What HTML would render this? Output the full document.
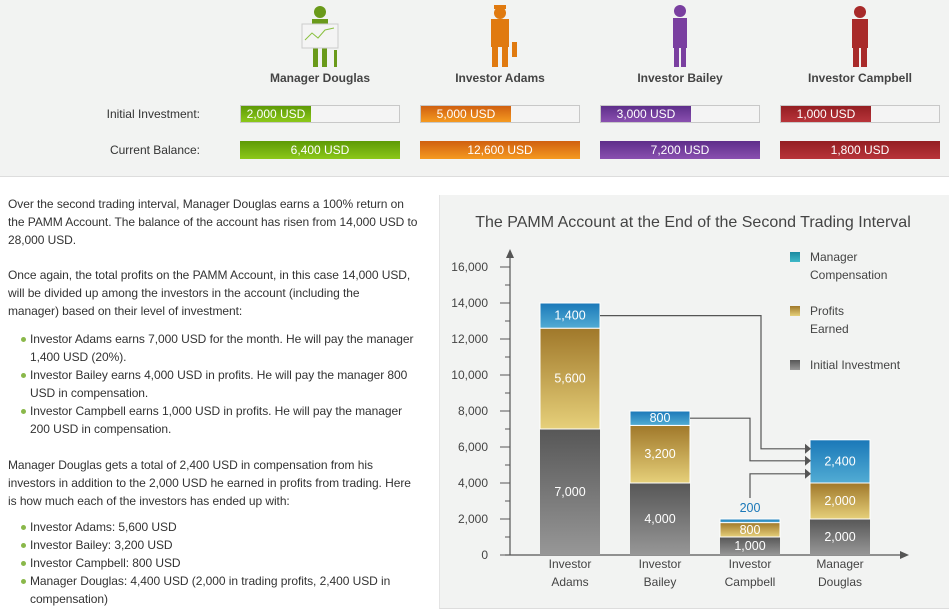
<!DOCTYPE html>
<html><head><meta charset="utf-8">
<style>
body{margin:0;width:949px;height:615px;overflow:hidden;background:#fff;font-family:"Liberation Sans",sans-serif;position:relative}
.top{position:absolute;left:0;top:0;width:949px;height:176px;background:#f2f3f2;border-bottom:1px solid #ddd}
.abs{position:absolute;white-space:nowrap}
.name{font-size:12px;font-weight:bold;color:#444;width:180px;text-align:center;top:71px}
.lbl{font-size:12px;color:#333;width:200px;text-align:right}
.bar{position:absolute;width:158px;height:16px;border:1px solid #c8c8c8;background:#f4f4f4}
.fill{position:absolute;left:0;top:0;height:16px;color:#fff;font-size:12px;line-height:16px;text-align:center;white-space:nowrap;overflow:visible}
.full{position:absolute;width:160px;height:18px;color:#fff;font-size:12px;line-height:18px;text-align:center}
.txt{position:absolute;left:8px;font-size:12px;letter-spacing:-0.06px;color:#333;white-space:nowrap;line-height:18px}
.bul{left:30px}
.dot{position:absolute;left:21px;width:5px;height:5px;border-radius:50%;background:#8ab84a}
.panel{position:absolute;left:439px;top:195px;width:510px;height:413px;background:#f2f3f2;border-left:1px solid #e4e4e4;border-bottom:1px solid #ddd}
</style></head><body>
<div class="top"></div>
<svg class="abs" style="left:0;top:0" width="949" height="70">
 <g fill="#6a9a1a"><circle cx="320" cy="12" r="6"/><rect x="312" y="19" width="16" height="28"/><rect x="313" y="45" width="5" height="22"/><rect x="322" y="45" width="5" height="22"/><rect x="302" y="24" width="36" height="24" fill="#f4f4f4" stroke="#ccc"/><polyline points="305,40 312,33 318,38 325,30 334,28" fill="none" stroke="#8ac040"/><rect x="334" y="50" width="3" height="17"/></g>
 <g fill="#e07a10"><rect x="494" y="5" width="12" height="4"/><circle cx="500" cy="13" r="6"/><rect x="491" y="19" width="18" height="28"/><rect x="492" y="45" width="6" height="22"/><rect x="502" y="45" width="6" height="22"/><rect x="512" y="42" width="5" height="15"/></g>
 <g fill="#7a3fa0"><circle cx="680" cy="11" r="6"/><rect x="673" y="18" width="14" height="30"/><rect x="674" y="46" width="5" height="21"/><rect x="681" y="46" width="5" height="21"/></g>
 <g fill="#a82a2a"><circle cx="860" cy="12" r="6"/><rect x="852" y="19" width="16" height="29"/><rect x="853" y="46" width="6" height="21"/><rect x="861" y="46" width="6" height="21"/></g>
</svg>
<div class="abs name" style="left:230px">Manager Douglas</div>
<div class="abs name" style="left:410px">Investor Adams</div>
<div class="abs name" style="left:590px">Investor Bailey</div>
<div class="abs name" style="left:770px">Investor Campbell</div>
<div class="abs lbl" style="left:0;top:107px">Initial Investment:</div>
<div class="abs lbl" style="left:0;top:143px">Current Balance:</div>
<div class="bar" style="left:240px;top:105px"><div class="fill" style="width:70px;background:linear-gradient(#5e9a06,#8cc81a)">2,000 USD</div></div>
<div class="bar" style="left:420px;top:105px"><div class="fill" style="width:90px;background:linear-gradient(#d06010,#f59a20)">5,000 USD</div></div>
<div class="bar" style="left:600px;top:105px"><div class="fill" style="width:90px;background:linear-gradient(#5e2e8a,#8a50b0)">3,000 USD</div></div>
<div class="bar" style="left:780px;top:105px"><div class="fill" style="width:90px;background:linear-gradient(#941e22,#b8343a)">1,000 USD</div></div>
<div class="full" style="left:240px;top:141px;background:linear-gradient(#5e9a06,#8cc81a)">6,400 USD</div>
<div class="full" style="left:420px;top:141px;background:linear-gradient(#d06010,#f59a20)">12,600 USD</div>
<div class="full" style="left:600px;top:141px;background:linear-gradient(#5e2e8a,#8a50b0)">7,200 USD</div>
<div class="full" style="left:780px;top:141px;background:linear-gradient(#941e22,#b8343a)">1,800 USD</div>

<div>
<div class="txt" style="top:195px">Over the second trading interval, Manager Douglas earns a 100% return on</div>
<div class="txt" style="top:213px">the PAMM Account. The balance of the account has risen from 14,000 USD to</div>
<div class="txt" style="top:231px">28,000 USD.</div>
<div class="txt" style="top:266px">Once again, the total profits on the PAMM Account, in this case 14,000 USD,</div>
<div class="txt" style="top:284px">will be divided up among the investors in the account (including the</div>
<div class="txt" style="top:302px">manager) based on their level of investment:</div>
<div class="dot" style="top:337px"></div><div class="txt bul" style="top:330px">Investor Adams earns 7,000 USD for the month. He will pay the manager</div>
<div class="txt bul" style="top:348px">1,400 USD (20%).</div>
<div class="dot" style="top:373px"></div><div class="txt bul" style="top:366px">Investor Bailey earns 4,000 USD in profits. He will pay the manager 800</div>
<div class="txt bul" style="top:384px">USD in compensation.</div>
<div class="dot" style="top:409px"></div><div class="txt bul" style="top:402px">Investor Campbell earns 1,000 USD in profits. He will pay the manager</div>
<div class="txt bul" style="top:420px">200 USD in compensation.</div>
<div class="txt" style="top:456px">Manager Douglas gets a total of 2,400 USD in compensation from his</div>
<div class="txt" style="top:474px">investors in addition to the 2,000 USD he earned in profits from trading. Here</div>
<div class="txt" style="top:492px">is how much each of the investors has ended up with:</div>
<div class="dot" style="top:525px"></div><div class="txt bul" style="top:518px">Investor Adams: 5,600 USD</div>
<div class="dot" style="top:543px"></div><div class="txt bul" style="top:536px">Investor Bailey: 3,200 USD</div>
<div class="dot" style="top:561px"></div><div class="txt bul" style="top:554px">Investor Campbell: 800 USD</div>
<div class="dot" style="top:579px"></div><div class="txt bul" style="top:572px">Manager Douglas: 4,400 USD (2,000 in trading profits, 2,400 USD in</div>
<div class="txt bul" style="top:590px">compensation)</div>
</div>

<div class="panel"></div>
<svg id="chart" class="abs" style="left:0;top:0" width="949" height="615">
<defs>
<linearGradient id="gI" x1="0" y1="0" x2="0" y2="1"><stop offset="0" stop-color="#575757"/><stop offset="1" stop-color="#979797"/></linearGradient>
<linearGradient id="gP" x1="0" y1="0" x2="0" y2="1"><stop offset="0" stop-color="#a0782a"/><stop offset="1" stop-color="#e6d07a"/></linearGradient>
<linearGradient id="gC" x1="0" y1="0" x2="0" y2="1"><stop offset="0" stop-color="#1a78b8"/><stop offset="1" stop-color="#52acd4"/></linearGradient>
<linearGradient id="gL" x1="0" y1="0" x2="0" y2="1"><stop offset="0" stop-color="#1a8aa0"/><stop offset="1" stop-color="#40b8c8"/></linearGradient>
</defs>
</svg>
<script>
const categories=[["Investor","Adams"],["Investor","Bailey"],["Investor","Campbell"],["Manager","Douglas"]];
const initialInvestment=[7000,4000,1000,2000];
const profitsEarned=[5600,3200,800,2000];
const managerComp=[1400,800,200,2400];
const yTicks=[0,2000,4000,6000,8000,10000,12000,14000,16000];
const NS="http://www.w3.org/2000/svg";
const svg=document.getElementById('chart');
const y=v=>555-v*(288/16000);
const xL=i=>540+i*90;
function mk(t,a,txt){const e=document.createElementNS(NS,t);for(const k in a)e.setAttribute(k,a[k]);if(txt!==undefined)e.textContent=txt;svg.appendChild(e);return e;}
let e=mk('text',{x:693,y:227,'font-size':16,fill:'#444','text-anchor':'middle','font-family':'Liberation Sans'},'The PAMM Account at the End of the Second Trading Interval');


e=mk('path',{d:'M510,555V252M505,555H905',stroke:'#555','stroke-width':1.2,fill:'none'});


mk('path',{d:'M506,258L510,249L514,258Z M900,551L909,555L900,559Z',fill:'#555'});
for(let k=0;k<=16;k++){const v=k*1000;mk('line',{x1:k%2?505:500,x2:510,y1:y(v),y2:y(v),stroke:'#555'});}
yTicks.forEach(v=>{e=mk('text',{x:488,y:y(v)+4,'font-size':12,fill:'#444','text-anchor':'end','font-family':'Liberation Sans'},v.toLocaleString('en-US'));

});
const series=[[initialInvestment,'url(#gI)','initial'],[profitsEarned,'url(#gP)','profits'],[managerComp,'url(#gC)','comp']];
const tops=[];
categories.forEach((c,i)=>{let base=0;tops[i]=[];
 series.forEach(([arr,fill,nm],s)=>{const v=arr[i];const y0=y(base),y1=y(base+v);
  e=mk('rect',{x:xL(i),y:y1,width:60,height:y0-y1,fill:fill,stroke:'#fff','stroke-width':s?1:0});
  
  
  tops[i][s]=[y1,y0];
  const small=(y0-y1)<14;
  const ty=small&&s==2? y1-7 : (y0+y1)/2+4;
  e=mk('text',{x:xL(i)+30,y:ty,'font-size':12.5,fill:small&&s==2?'#1a78b8':'#fff','text-anchor':'middle','font-family':'Liberation Sans'},v.toLocaleString('en-US'));
  
  
  base+=v;});
 c.forEach((l,j)=>{e=mk('text',{x:xL(i)+30,y:568+j*18,'font-size':12,fill:'#444','text-anchor':'middle','font-family':'Liberation Sans'},l);
 
 });
});
const dT=tops[3][2];const ay=[dT[0]+9,dT[0]+21,dT[0]+34];
const mid=k=>(tops[k][2][0]+tops[k][2][1])/2;
const paths=['M600,'+mid(0)+'H761V'+ay[0]+'H806','M690,'+mid(1)+'H750V'+ay[1]+'H806','M750,'+(tops[2][2][0]-21)+'V'+ay[2]+'H806'];
paths.forEach((d,k)=>{e=mk('path',{d:d,stroke:'#555','stroke-width':1.2,fill:'none'});
 
 
 mk('path',{d:'M805,'+(ay[k]-5)+'L811,'+ay[k]+'L805,'+(ay[k]+5)+'Z',fill:'#555'});});
const legend=[['url(#gL)',['Manager','Compensation'],257],['url(#gP)',['Profits','Earned'],311],['url(#gI)',['Initial Investment'],365]];
legend.forEach(([f,ls,yy])=>{e=mk('rect',{x:790,y:yy-5,width:10,height:10,fill:f});
 
 
 ls.forEach((l,j)=>{e=mk('text',{x:810,y:yy+4+j*18,'font-size':12,fill:'#444','font-family':'Liberation Sans'},l);
 
 });});
</script>
</body></html>
